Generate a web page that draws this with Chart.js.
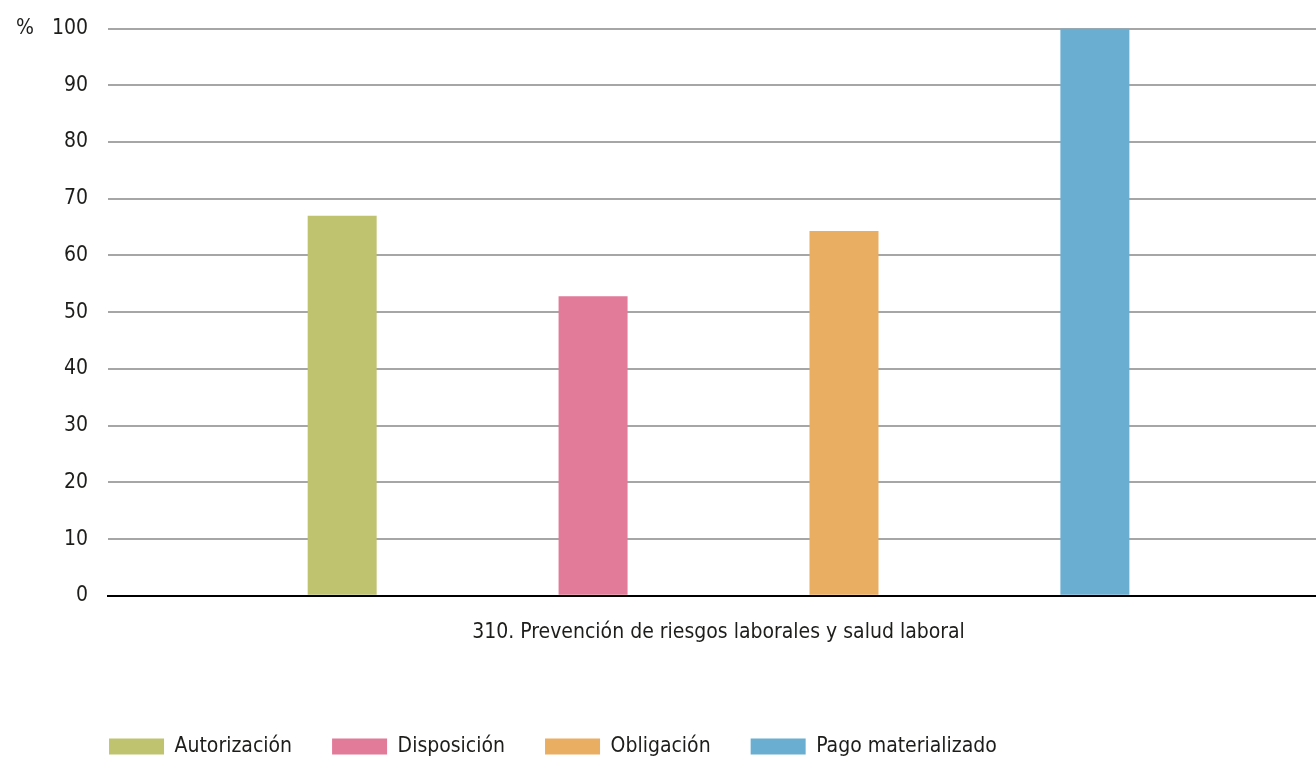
<!DOCTYPE html>
<html>
<head>
<meta charset="utf-8">
<script src="https://cdn.jsdelivr.net/npm/chart.js@4"></script>
<style>
  html, body { margin: 0; padding: 0; background: #fff; }
  #wrap { width: 1316px; height: 758px; position: relative; overflow: hidden; }
  /* plot runs a little past the right edge in the reference */
  #box { position: absolute; left: 0; top: -4px; width: 1329px; height: 762px; }
</style>
</head>
<body>
<div id="wrap"><div id="box"><canvas id="chart"></canvas></div></div>
<script>
// Data
const categories = ['310. Prevención de riesgos laborales y salud laboral'];
const seriesNames = ['Autorización', 'Disposición', 'Obligación', 'Pago materializado'];
const autorizacion = [67];
const disposicion = [52.8];
const obligacion = [64.3];
const pagoMaterializado = [100];
const yMin = 0, yMax = 100, yStep = 10;
const unitLabel = '%';

const colors = ['#BFC36F', '#E27A9A', '#E9AE62', '#6AAFD2'];
const FONT = "'Liberation Sans Narrow', 'DejaVu Sans Condensed', Roboto, sans-serif";
const TEXT = '#1d1d1b';

Chart.defaults.font.family = FONT;
Chart.defaults.font.size = 21;
Chart.defaults.color = TEXT;

const LEGEND_GAP = 40;

// move the legend under the left edge of the plot and down to the bottom
const legendShift = {
  id: 'legendShift',
  afterLayout(chart) {
    const lg = chart.legend;
    if (!lg) return;
    lg.left = chart.chartArea.left - LEGEND_GAP + 1;
    lg.top = chart.height - 62;
    lg.right = chart.width;
    lg.bottom = chart.height;
    lg.width = lg.right - lg.left;
    lg.height = lg.bottom - lg.top;
  }
};

// "%" unit next to the top tick
const unitText = {
  id: 'unitText',
  afterDraw(chart) {
    const y = chart.scales.y.getPixelForValue(yMax);
    const ctx = chart.ctx;
    ctx.save();
    ctx.font = '21px ' + FONT;
    ctx.fillStyle = TEXT;
    ctx.textAlign = 'left';
    ctx.textBaseline = 'middle';
    ctx.fillText(unitLabel, 16, y);
    ctx.restore();
  }
};

const seriesData = [autorizacion, disposicion, obligacion, pagoMaterializado];

new Chart(document.getElementById('chart'), {
  type: 'bar',
  data: {
    labels: categories,
    datasets: seriesNames.map((name, i) => ({
      label: name,
      data: seriesData[i],
      backgroundColor: colors[i],
      borderWidth: 0,
      categoryPercentage: 0.822,
      barPercentage: 0.275
    }))
  },
  options: {
    responsive: true,
    maintainAspectRatio: false,
    animation: false,
    layout: { padding: { top: 22, right: 0, left: 32, bottom: 18 } },
    plugins: {
      legend: {
        position: 'bottom',
        align: 'start',
        fullSize: false,
        labels: {
          boxWidth: 55,
          boxHeight: 16,
          padding: LEGEND_GAP,
          color: TEXT,
          font: { size: 21 }
        }
      },
      tooltip: { enabled: false }
    },
    scales: {
      x: {
        grid: { display: false, drawTicks: false },
        border: { display: true, color: '#000', width: 2 },
        ticks: { padding: 24, color: TEXT, font: { size: 21 } }
      },
      y: {
        min: yMin,
        max: yMax,
        grid: { color: '#a6a6a6', lineWidth: 2, drawTicks: false },
        border: { display: false },
        ticks: { stepSize: yStep, padding: 20, color: TEXT, font: { size: 21 } }
      }
    }
  },
  plugins: [legendShift, unitText]
});
</script>
</body>
</html>
